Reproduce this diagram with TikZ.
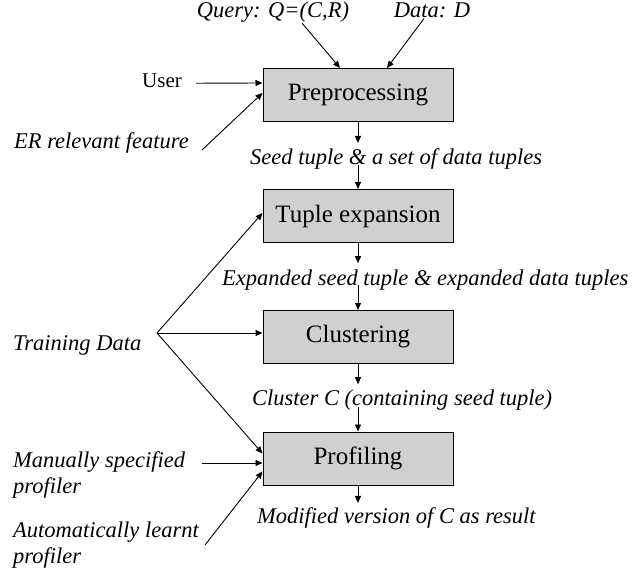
\documentclass[tikz,border=0pt]{standalone}
\usepackage{fontspec}
\setmainfont{Liberation Serif}
\usetikzlibrary{arrows.meta}
\definecolor{boxgray}{RGB}{208,208,208}
\begin{document}
\begin{tikzpicture}[x=1pt,y=-1pt,
  procbox/.style={draw=black, line width=1pt, fill=boxgray, minimum width=190pt,
    minimum height=53pt, inner sep=0pt, font=\fontsize{25}{30}\selectfont},
  lab/.style={inner sep=0pt, font=\fontsize{22.5}{26}\selectfont\itshape},
  mlab/.style={inner sep=0pt, align=left, font=\fontsize{22.5}{26}\selectfont\itshape},
  rlab/.style={inner sep=0pt, font=\fontsize{21}{25}\selectfont},
  arr/.style={line width=0.9pt, -{Triangle[length=7pt,width=6pt]}}]
\useasboundingbox (0,0) rectangle (643,575);

% process boxes
\node[procbox] (pre) at (358,95) {Preprocessing};
\node[procbox] (tup) at (358,216) {Tuple expansion};
\node[procbox] (clu) at (358,337) {Clustering};
\node[procbox] (pro) at (358,458.5) {Profiling};

% top inputs
\node[lab, anchor=base] (q) at (273,18) {Query: Q=(C,R)};
\node[lab, anchor=base] (d) at (432,18) {Data: D};
\node[rlab, anchor=base west] (user) at (142,88) {User};
\node[lab, anchor=base west] (er) at (14,149) {ER relevant feature};
\coordinate (ero) at (202,150);

% intermediate labels
\node[lab, anchor=base west] (seed) at (250,165) {Seed tuple \& a set of data tuples};
\node[lab, anchor=base west] (exp) at (222,285) {Expanded seed tuple \& expanded data tuples};
\node[lab, anchor=base west] (cc) at (252,405) {Cluster C (containing seed tuple)};
\node[lab, anchor=base west] (mod) at (257,523) {Modified version of C as result};

% left inputs
\node[lab, anchor=base west] (td) at (13,350) {Training Data};
\coordinate (tdo) at (157,333);
\node[mlab, anchor=base west] (man) at (13,493) {Manually specified\\profiler};
\node[mlab, anchor=base west] (aut) at (13,563) {Automatically learnt\\profiler};

% arrows into Preprocessing
\draw[arr] ([xshift=29pt]q.south) -- ([xshift=-18pt]pre.north);
\draw[arr] ([xshift=-8pt]d.south) -- ([xshift=29pt]pre.north);
\draw[arr] ([xshift=14pt,yshift=-2pt]user.east) -- ([yshift=12pt]pre.west);
\draw[arr] (ero) -- ([yshift=2pt]pre.west);

% main flow
\coordinate (s1) at (pre.south |- seed.north);
\draw[arr] (pre.south) -- ([yshift=6pt]s1);
\draw[arr] (pre.south |- seed.base) -- (tup.north);
\coordinate (s2) at (tup.south |- exp.north);
\draw[arr] (tup.south) -- ([yshift=6pt]s2);
\draw[arr] (tup.south |- exp.base) -- (clu.north);
\coordinate (s3) at (clu.south |- cc.north);
\draw[arr] (clu.south) -- ([yshift=5pt]s3);
\draw[arr] ([yshift=-2pt]clu.south |- cc.base) -- (pro.north);
\coordinate (s4) at (pro.south |- mod.north);
\draw[arr] (pro.south) -- ([yshift=4pt]s4);

% training data
\draw[arr] (tdo) -- ([yshift=3pt]tup.west);
\draw[arr] (tdo) -- (tdo -| clu.west);
\draw[arr] (tdo) -- ([yshift=5pt]pro.west);

% profilers
\coordinate (mo) at (202,463);
\draw[arr] (mo) -- (mo -| pro.west);
\coordinate (ao) at (205,545);
\draw[arr] (ao) -- ([yshift=-13pt]pro.west);
\end{tikzpicture}
\end{document}
